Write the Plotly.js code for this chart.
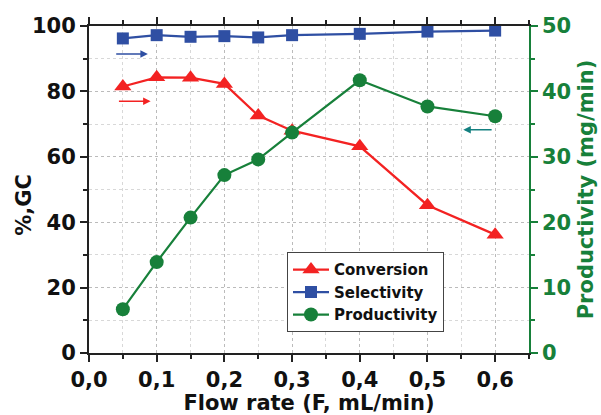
<!DOCTYPE html>
<html><head><meta charset="utf-8">
<script src="https://cdn.plot.ly/plotly-3.0.1.min.js"></script>
<style>body{margin:0;background:#fff}#c{width:601px;height:415px}</style>
</head><body><div id="c"></div>
<script>
const flow = [0.05, 0.1, 0.15, 0.2, 0.25, 0.3, 0.4, 0.5, 0.6];
const conversion = [81.5, 84.3, 84.2, 82.3, 72.6, 68.0, 63.2, 45.2, 36.2];
const selectivity = [96.2, 97.2, 96.7, 96.9, 96.5, 97.2, 97.6, 98.3, 98.6];
const productivity = [6.7, 13.9, 20.7, 27.2, 29.6, 33.7, 41.7, 37.7, 36.2];
const seriesNames = ['Conversion', 'Selectivity', 'Productivity'];

const RED = '#f32222', BLUE = '#2f4fa3', GREEN = '#17803a', TEAL = '#138080';
const F = {family: 'DejaVu Sans, Liberation Sans, Arial, sans-serif', weight: 'bold'};

const traces = [
  {x: flow, y: conversion, name: seriesNames[0], mode: 'lines+markers',
   line: {color: RED, width: 2.2}, marker: {symbol: 'triangle-up', size: 15, color: RED}},
  {x: flow, y: selectivity, name: seriesNames[1], mode: 'lines+markers',
   line: {color: BLUE, width: 2.2}, marker: {symbol: 'square', size: 12, color: BLUE}},
  {x: flow, y: productivity, name: seriesNames[2], mode: 'lines+markers', yaxis: 'y2',
   line: {color: GREEN, width: 2.2}, marker: {symbol: 'circle', size: 14, color: GREEN}}
];

const arrow = (x0, x1, y, col) => ({
  x: x1, y: y, ax: x0, ay: y, xref: 'x', yref: 'y', axref: 'x', ayref: 'y',
  showarrow: true, arrowhead: 2, arrowsize: 1, arrowwidth: 1.5, arrowcolor: col, text: ''
});

const layout = {
  width: 601, height: 415,
  margin: {l: 89, r: 72, t: 26, b: 62},
  paper_bgcolor: '#fff', plot_bgcolor: '#fff',
  separators: ',.',
  showlegend: true,
  legend: {x: 0.45, y: 0.308, xanchor: 'left', yanchor: 'top',
    bordercolor: '#444', borderwidth: 1, bgcolor: '#fff',
    font: Object.assign({size: 15, color: '#111'}, F), tracegroupgap: 0, itemwidth: 36},
  xaxis: {range: [0, 0.65], dtick: 0.1, tick0: 0, tickformat: '.1f',
    showline: true, linecolor: '#222', linewidth: 2, mirror: 'ticks',
    ticks: 'outside', ticklen: 7, tickwidth: 1.5, tickcolor: '#222',
    minor: {dtick: 0.05, ticklen: 4, tickcolor: '#222', showgrid: true, gridcolor: '#d8d8d8', griddash: 'dot'},
    showgrid: true, gridcolor: '#bbbbbb', griddash: 'dot', zeroline: false,
    tickfont: Object.assign({size: 21, color: '#111'}, F),
    title: {text: 'Flow rate (F, mL/min)', font: Object.assign({size: 21, color: '#111'}, F), standoff: 6}},
  yaxis: {range: [0, 100], dtick: 20,
    showline: true, linecolor: '#222', linewidth: 2,
    ticks: 'outside', ticklen: 7, tickwidth: 1.5, tickcolor: '#222',
    minor: {dtick: 10, ticklen: 4, tickcolor: '#222', showgrid: true, gridcolor: '#d8d8d8', griddash: 'dot'},
    showgrid: true, gridcolor: '#bbbbbb', griddash: 'dot', zeroline: false,
    tickfont: Object.assign({size: 21, color: '#111'}, F),
    title: {text: ''}},
  yaxis2: {range: [0, 50], dtick: 10, overlaying: 'y', side: 'right',
    showline: true, linecolor: GREEN, linewidth: 1.5,
    ticks: 'outside', ticklen: 7, tickwidth: 1.5, tickcolor: GREEN,
    minor: {dtick: 5, ticklen: 4, tickcolor: GREEN},
    showgrid: false, zeroline: false,
    tickfont: Object.assign({size: 21, color: GREEN}, F),
    title: {text: 'Productivity (mg/min)', font: Object.assign({size: 21, color: GREEN}, F), standoff: 8}},
  annotations: [
    arrow(0.038, 0.087, 91.4, BLUE),
    arrow(0.042, 0.091, 77, RED),
    arrow(0.597, 0.553, 68.3, TEAL),
    {text: '%,GC', xref: 'paper', yref: 'paper', x: 0, y: 0.453, xshift: -65, textangle: -90,
     showarrow: false, xanchor: 'center', yanchor: 'middle',
     font: Object.assign({size: 21, color: '#111'}, F)}
  ]
};
Plotly.newPlot('c', traces, layout, {displayModeBar: false});
</script></body></html>
